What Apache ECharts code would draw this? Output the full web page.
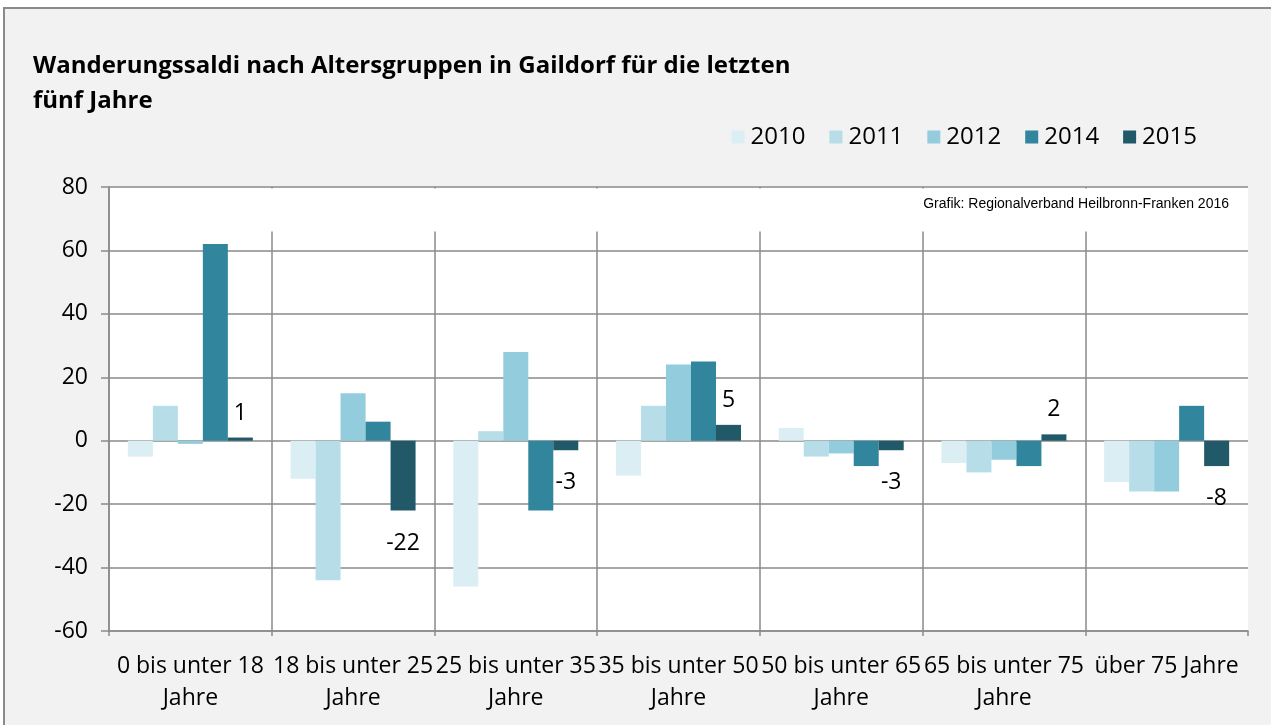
<!DOCTYPE html>
<html>
<head>
    <meta charset="utf-8" />
    <title>Wanderungssaldi Gaildorf</title>
    <script src="https://cdn.jsdelivr.net/npm/echarts@6/dist/echarts.min.js"></script>
    <style>
        html, body { margin: 0; padding: 0; background: #fff; }
        #main { width: 1271px; height: 725px; }
    </style>
</head>
<body>
    <div id="main"></div>
    <script type="text/javascript">
        // Altersgruppen
        var categories = ['0 bis unter 18\nJahre', '18 bis unter 25\nJahre', '25 bis unter 35\nJahre',
            '35 bis unter 50\nJahre', '50 bis unter 65\nJahre', '65 bis unter 75\nJahre', 'über 75 Jahre'];
        var years = ['2010', '2011', '2012', '2014', '2015'];
        var colors = ['#DAEEF3', '#B7DEE8', '#93CDDD', '#31859C', '#215968'];

        // Wanderungssaldo je Jahr
        var saldo2010 = [-5, -12, -46, -11, 4, -7, -13];
        var saldo2011 = [11, -44, 3, 11, -5, -10, -16];
        var saldo2012 = [-1, 15, 28, 24, -4, -6, -16];
        var saldo2014 = [62, 6, -22, 25, -8, -8, 11];
        var saldo2015 = [1, -22, -3, 5, -3, 2, -8];
        var values = [saldo2010, saldo2011, saldo2012, saldo2014, saldo2015];

        var yTicks = [-60, -40, -20, 0, 20, 40, 60, 80];

        var font = 'Open Sans';
        var gridLeft = 109, gridRight = 23, gridTop = 187, gridBottom = 94;
        var lineColor = '#8a8a8a';

        var series = [];
        for (var i = 0; i < years.length; i++) {
            var last = (i == years.length - 1);  // nur 2015 beschriftet
            series.push({
                name: years[i],
                type: 'bar',
                data: values[i].map(function (v) {
                    return { value: v, label: { distance: v < 0 ? 21 : 13 } };
                }),
                barWidth: 25,
                barGap: '0%',
                itemStyle: { color: colors[i] },
                label: {
                    show: last,
                    position: 'outside',
                    color: '#000',
                    fontFamily: font,
                    fontSize: 23
                }
            });
        }

        // senkrechte Trennlinien, die letzte (rechter Rand) unsichtbar
        var splitColors = [];
        for (var k = 0; k < categories.length; k++) splitColors.push(lineColor);
        splitColors.push('rgba(0,0,0,0)');

        var myChart = echarts.init(document.getElementById('main'));
        myChart.setOption({
            backgroundColor: '#fff',
            animation: false,
            title: {
                text: 'Wanderungssaldi nach Altersgruppen in Gaildorf für die letzten\nfünf Jahre',
                left: 28,
                top: 44,
                textStyle: {
                    fontFamily: font,
                    fontSize: 24,
                    fontWeight: 'bold',
                    color: '#000',
                    lineHeight: 35
                }
            },
            legend: {
                data: years,
                right: 69,
                top: 120,
                itemWidth: 13,
                itemHeight: 13,
                itemGap: 24,
                icon: 'rect',
                textStyle: { fontFamily: font, fontSize: 24, color: '#000', padding: [0, 0, 0, 1] }
            },
            grid: {
                left: gridLeft,
                right: gridRight,
                top: gridTop,
                bottom: gridBottom,
                show: true,
                backgroundColor: '#fff',
                borderWidth: 0
            },
            xAxis: {
                type: 'category',
                data: categories,
                axisLine: { onZero: false, lineStyle: { color: lineColor, width: 1.5 } },
                axisTick: { show: true, length: 5, lineStyle: { color: lineColor, width: 1.5 } },
                splitLine: { show: true, lineStyle: { color: splitColors, width: 1.5 } },
                axisLabel: {
                    interval: 0,
                    margin: 19,
                    color: '#000',
                    fontFamily: font,
                    fontSize: 23,
                    lineHeight: 32
                }
            },
            yAxis: {
                type: 'value',
                min: yTicks[0],
                max: yTicks[yTicks.length - 1],
                interval: 20,
                axisLine: { show: true, lineStyle: { color: lineColor, width: 1.5 } },
                axisTick: { show: true, length: 8, lineStyle: { color: lineColor, width: 1.5 } },
                splitLine: { show: true, lineStyle: { color: lineColor, width: 1.5 } },
                axisLabel: { margin: 21, color: '#000', fontFamily: font, fontSize: 23 }
            },
            graphic: [
                {   // grauer Rahmen / Hintergrund
                    type: 'rect',
                    z: -10,
                    shape: { x: 4, y: 8, width: 1300, height: 760 },
                    style: { fill: '#f2f2f2', stroke: lineColor, lineWidth: 2 }
                },
                {   // obere Zone ohne senkrechte Linien
                    type: 'rect',
                    z: 1,
                    shape: { x: gridLeft + 1, y: gridTop + 1.5, width: 1271 - gridLeft - gridRight - 1, height: 43 },
                    style: { fill: '#fff' }
                },
                {
                    type: 'text',
                    z: 2,
                    right: 1271 - 1229,
                    top: 197,
                    style: {
                        text: 'Grafik: Regionalverband Heilbronn-Franken 2016',
                        fill: '#000',
                        font: '14px "Liberation Sans", Arial, sans-serif'
                    }
                }
            ],
            series: series
        });
    </script>
</body>
</html>
